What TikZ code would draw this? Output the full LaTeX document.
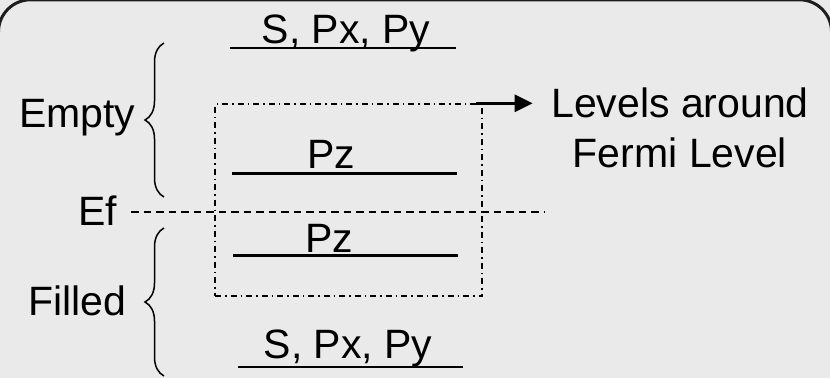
\documentclass[tikz,border=0pt]{standalone}
\usepackage{fontspec}
\setmainfont{Liberation Sans}
\usetikzlibrary{decorations.pathreplacing,arrows.meta}
\definecolor{bg}{RGB}{234,234,234}
\definecolor{frame}{RGB}{30,30,30}
\tikzset{
  lbl/.style={font=\fontsize{41}{46}\selectfont, inner sep=0pt, anchor=base},
  level/.style={line width=2.2pt},
  fermi/.style={line width=1.4pt, dash pattern=on 7.5pt off 5pt},
  window/.style={draw, line width=1.4pt, dash pattern=on 6pt off 4pt on 1.5pt off 4pt, inner sep=0pt},
  bracebox/.style={line width=1.5pt, decorate, decoration={brace, amplitude=19pt}},
  pointer/.style={line width=2.6pt, -{Triangle[length=18pt,width=17pt]}}
}
\begin{document}
\begin{tikzpicture}[x=1pt,y=-1pt]
\useasboundingbox (0,0) rectangle (830,378);
\clip (0,0) rectangle (830,378);
\fill[bg] (0,0) rectangle (830,378);
\draw[frame, line width=3pt, rounded corners=32pt] (-1.5,-0.2) rectangle (831.5,460);

% levels
\coordinate (t1) at (230,48); \coordinate (t2) at (456,48);
\draw[level] (t1) -- (t2);
\node[lbl] (stop) at (346,43) {S, Px, Py};

\coordinate (u1) at (232,173.5); \coordinate (u2) at (457,173.5);
\draw[level] (u1) -- (u2);
\node[lbl] (pzup) at (331,168) {Pz};

\coordinate (l1) at (233,255.5); \coordinate (l2) at (458,255.5);
\draw[level] (l1) -- (l2);
\node[lbl] (pzlo) at (329,252) {Pz};

\coordinate (b1) at (238,367); \coordinate (b2) at (463,367);
\draw[level] (b1) -- (b2);
\node[lbl] (sbot) at (348,358) {S, Px, Py};

% Fermi level
\node[lbl, anchor=base west] (ef) at (78,225) {Ef};
\coordinate (efend) at (545,212);
\draw[fermi] (131,212) -- (efend);

% window box
\node[window, minimum width=267pt, minimum height=192pt] (box) at (348.5,200) {};
\draw[pointer] ([xshift=-7pt]box.north east) -- ++(57,0) coordinate (arrend);
\node[lbl] (lev1) at (680,117) {Levels around};
\node[lbl] (lev2) at (680,167) {Fermi Level};

% braces
\draw[bracebox] (164,197) -- (164,43);
\node[lbl, anchor=base west] (empty) at (19,127) {Empty};
\draw[bracebox] (164,376) -- (164,228);
\node[lbl, anchor=base west] (filled) at (28,315) {Filled};
\end{tikzpicture}
\end{document}
